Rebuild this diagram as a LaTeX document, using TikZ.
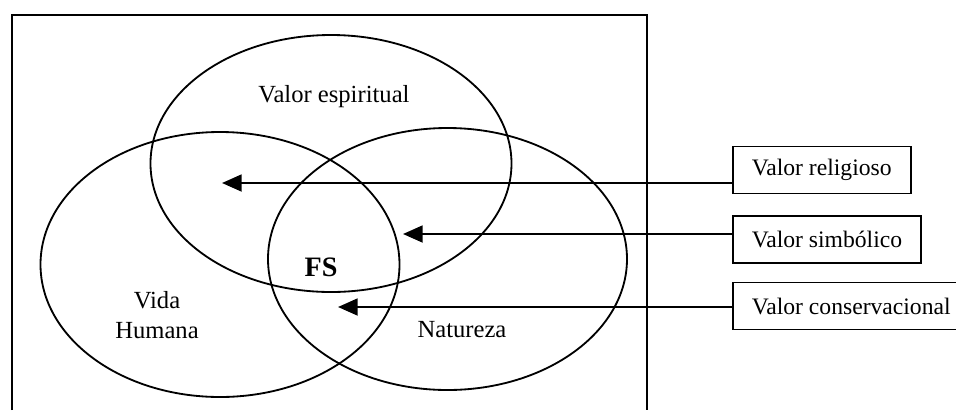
\documentclass[tikz,border=0pt]{standalone}
\usepackage{fontspec}
\setmainfont{Liberation Serif}
\usetikzlibrary{arrows.meta}
\begin{document}
\begin{tikzpicture}[x=0.025cm, y=-0.025cm,
  set/.style={line width=1.3pt},
  settext/.style={font=\fontsize{17.5}{21}\selectfont, align=center},
  valuebox/.style={draw, line width=1.3pt, anchor=west, inner xsep=13.5pt,
    minimum height=33.5pt, font=\fontsize{16.8}{21}\selectfont},
  pointer/.style={line width=1.6pt, -{Triangle[length=14pt, width=12pt]}}]
  \useasboundingbox (0,0) rectangle (956,410);

  % Frame (open at the bottom)
  \draw[line width=1.4pt] (12,410) -- (12,15) -- (647,15) -- (647,410);

  % Three sets
  \draw[set] (331,163.5) ellipse [x radius=180.5, y radius=128.5];
  \draw[set] (220,264.5) ellipse [x radius=179.5, y radius=132.5];
  \draw[set] (447.5,259) ellipse [x radius=179.5, y radius=131];

  % Set labels
  \node[settext] (esp) at (334,97) {Valor espiritual};
  \node[settext] (vida) at (157,315) {Vida\\Humana};
  \node[settext] (nat) at (462,330) {Natureza};
  \node[font=\bfseries\fontsize{20}{24}\selectfont] (fs) at (321,267) {FS};

  % Values on the right
  \node[valuebox] (rel) at (732,170) {Valor religioso};
  \node[valuebox] (sim) at (732,239.5) {Valor simb\'olico};
  \node[valuebox] (con) at (732,306) {Valor conservacional};

  % Arrows into the sets
  \coordinate (tipR) at (222,183);
  \coordinate (tipS) at (403,234);
  \coordinate (tipC) at (338,307);
  \draw[pointer] (tipR -| rel.west) -- (tipR);
  \draw[pointer] (tipS -| sim.west) -- (tipS);
  \draw[pointer] (tipC -| con.west) -- (tipC);
\end{tikzpicture}
\end{document}
